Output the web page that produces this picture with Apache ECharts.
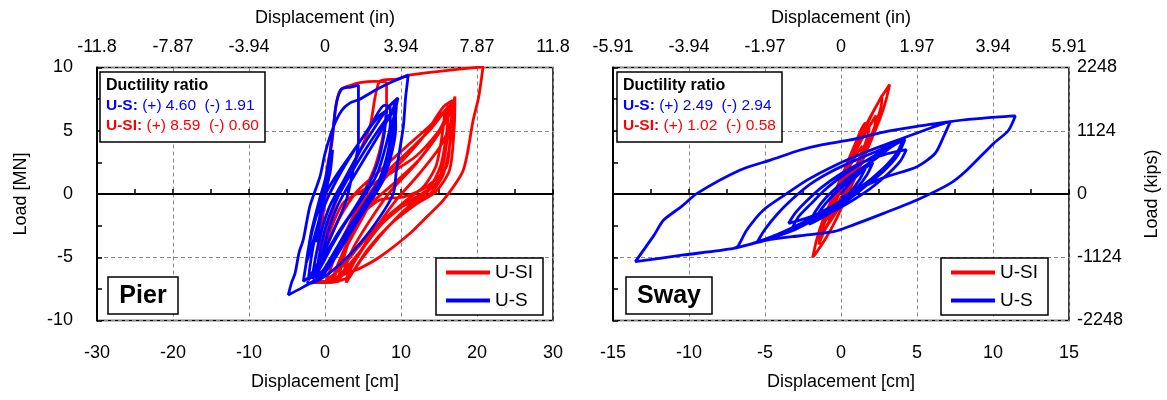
<!DOCTYPE html>
<html><head><meta charset="utf-8">
<script src="https://cdn.jsdelivr.net/npm/echarts@6/dist/echarts.min.js"></script>
<style>html,body{margin:0;padding:0;background:#fff}#c{width:1167px;height:400px}</style>
</head><body><div id="c"></div>
<script>
// ---------- data (cm, MN) ----------
const pierUSI = [
[0,0],[0.4,2.0],[0.8,4.0],[0.6,2.0],[0.1,0.0],[-0.4,-2.4],[-0.8,-4.5],[-0.5,-2.6],[0.0,0.0],
[0.4,2.5],[0.9,4.0],[1.4,6.8],[2.0,8.2],[3.4,8.6],[4.6,8.8],[6.6,8.9],[8.1,8.8],[8.1,6.8],[7.6,4.5],[6.6,2.2],[5.0,0.0],[3.2,-2.4],[1.6,-4.4],[0.2,-6.0],[-1.3,-6.9],
[-0.9,-5.6],[0.0,-3.4],[1.2,-1.0],[2.4,0.8],[4.2,2.9],[5.9,5.3],[7.2,8.9],[9.6,9.1],[11.0,9.4],[15.0,9.7],[20.8,10.06],
[20.2,7.6],[19.5,5.85],[18.2,1.9],[15.6,-0.47],[13.4,-1.8],[11.2,-3.1],[7.24,-4.96],[4.6,-5.87],[2.85,-6.27],[0.2,-6.9],[-1.3,-6.9],
[-0.8,-6.0],[0.2,-4.2],[1.8,-2.0],[4.2,0.2],[7.5,2.0],[10.8,3.8],[13.8,5.4],[15.8,6.6],[15.4,4.6],[14.6,2.2],[13.0,0.6],[10.5,-0.6],[7.0,-2.4],[4.4,-4.2],[2.0,-5.9],[0.2,-6.8],
[0.8,-5.8],[2.2,-3.6],[4.4,-1.2],[7.6,1.4],[11.0,3.4],[14.0,5.2],[16.3,7.0],[16.0,4.8],[15.2,2.2],[13.6,0.4],[11.0,-0.6],[7.6,-2.3],[4.8,-4.4],[2.6,-6.0],[1.0,-6.9],
[1.6,-6.0],[3.0,-4.0],[5.0,-1.8],[7.7,1.1],[10.3,2.7],[12.9,4.5],[15.6,6.9],[16.8,7.4],[16.5,5.0],[16.0,2.2],[13.4,0.58],[10.5,-0.2],[7.2,-0.47],[4.6,-1.8],[3.0,-4.0],[1.6,-7.0],
[2.4,-6.2],[3.6,-4.4],[5.8,-2.2],[8.6,0.2],[12.0,2.4],[15.0,4.8],[16.6,6.6],[17.1,7.7],[17.0,5.2],[16.4,1.9],[14.6,0.2],[12.0,-0.8],[8.6,-2.4],[5.6,-4.4],[3.2,-6.6],[2.8,-7.0],
[3.0,-6.4],[4.6,-4.6],[6.8,-2.6],[9.2,-0.6],[12.4,1.6],[15.2,3.8],[16.8,6.0],[17.0,7.2],[16.6,4.6],[15.6,1.6],[13.8,0.0],[11.0,-1.0],[8.0,-2.8],[5.0,-5.0],[3.0,-6.6],[0.4,-7.0],[-1.5,-7.0],
[-0.6,-5.0],[0.6,-3.0],[2.4,-0.7],[5.0,0.3],[8.5,1.6],[12.0,3.0],[15.0,5.0],[16.2,6.2],
[16.0,4.0],[15.0,1.2],[12.5,-0.3],[9.5,-1.2],[6.5,-3.0],[4.0,-5.2],[2.0,-6.6],[0.8,-7.0],[1.8,-5.4],[3.6,-3.0],[6.0,-0.8],[9.0,0.8],[12.5,2.8],[15.2,5.2],[16.6,7.2]
];
const pierUS = [
[0,0],[0.5,1.8],[1.0,3.5],[0.7,1.8],[0.0,0.0],[-0.6,-2.0],[-1.1,-3.8],[-0.8,-2.2],[-0.2,0.0],[0.4,2.0],[0.7,3.0],[0.3,1.0],[-0.6,-1.6],[-1.6,-3.8],[-2.5,-5.5],
[-1.8,-3.0],[-0.8,-0.6],[0.0,1.1],[0.66,3.2],[1.1,5.3],[1.5,7.2],[2.2,8.3],[3.4,8.45],[4.4,8.6],[4.4,6.5],[4.4,4.0],[3.7,1.9],[2.8,-0.5],[1.2,-2.8],[-0.5,-5.0],[-2.0,-6.5],[-2.85,-6.9],
[-2.4,-5.2],[-1.7,-3.0],[-0.6,-0.8],[1.2,1.2],[3.5,3.2],[5.6,5.0],[7.2,6.2],[8.1,6.6],[7.8,4.8],[7.0,2.6],[5.6,0.6],[3.8,-1.2],[1.8,-3.0],[0.0,-4.8],[-1.4,-6.2],[-2.2,-6.8],
[-1.8,-5.0],[-1.1,-2.8],[0.0,-0.8],[1.8,1.4],[4.0,3.6],[6.2,5.6],[7.8,7.0],[8.55,6.9],[8.6,5.6],[8.0,3.8],[6.8,1.5],[5.0,-0.3],[3.0,-2.0],[1.0,-4.0],[-0.6,-5.8],[-1.7,-6.7],
[-1.3,-5.2],[-0.5,-3.0],[0.6,-1.0],[2.4,1.0],[4.6,3.4],[6.8,5.5],[8.4,6.9],[9.6,7.6],[8.9,5.6],[8.3,3.4],[7.2,1.2],[5.4,-0.6],[3.4,-2.4],[1.4,-4.4],[-0.2,-6.0],[-1.2,-6.6],
[-0.8,-5.0],[0.0,-2.8],[1.2,-0.8],[3.0,1.2],[5.2,3.4],[7.4,5.4],[8.9,6.6],[9.2,7.2],[9.3,5.2],[8.6,2.8],[7.4,0.8],[5.6,-0.9],[3.6,-2.8],[1.6,-4.8],[0.0,-6.2],[-1.0,-6.7],
[-0.5,-5.2],[0.4,-3.0],[1.6,-1.0],[3.4,1.0],[5.4,3.0],[7.2,4.8],[8.6,6.2],[9.4,6.9],[9.0,4.8],[8.2,2.4],[6.8,0.4],[5.0,-1.3],[3.0,-3.2],[1.2,-5.0],[-0.2,-6.3],[-1.0,-6.7],
[-3.0,-7.4],[-4.83,-7.98],
[-4.4,-7.0],[-3.95,-6.3],[-3.4,-4.6],[-2.85,-3.6],[-2.0,-1.0],[-0.66,1.37],[0.0,3.2],[1.1,5.3],[2.2,6.6],[3.3,7.2],[4.6,7.5],[6.6,8.2],[8.55,8.8],[10.96,9.4],
[10.6,7.6],[10.3,5.3],[9.4,1.9],[9.0,0.05],[7.24,-1.8],[4.6,-3.9],[1.1,-6.0],[-1.97,-7.06],[-2.4,-6.9]
];
const swayUSI = [
[0,0],[0.25,1.0],[0.7,1.9],[0.55,1.0],[0.1,-0.1],[-0.25,-0.8],[-0.45,-1.2],[-0.35,-0.6],[-0.05,0.2],
[0.3,1.5],[0.85,2.8],[1.4,3.8],[1.25,2.6],[0.8,1.4],[0.2,0.0],[-0.4,-1.2],[-0.8,-2.2],[-0.7,-1.2],[-0.3,0.0],
[0.2,1.5],[0.8,3.0],[1.5,4.6],[2.3,6.2],[2.15,4.8],[1.65,3.4],[1.05,1.8],[0.35,0.0],[-0.4,-1.6],[-1.0,-2.7],[-1.3,-3.5],[-1.25,-2.6],[-0.95,-1.4],
[-0.45,0.0],[0.29,2.0],[1.06,4.0],[1.88,6.0],[2.58,7.5],[3.2,8.65],[2.98,7.5],[2.58,6.0],[1.9,4.0],[1.19,2.0],[0.45,0.0],[-0.32,-2.0],[-1.0,-3.5],[-1.55,-4.5],[-1.86,-5.0],
[-1.6,-3.6],[-1.2,-2.1],[-0.5,-0.1],[0.25,2.0],[0.95,4.0],[1.6,5.6],[1.85,5.2],[1.6,4.0],[1.0,2.2],[0.4,0.5],[-0.2,-1.0],[-0.7,-2.0],
[-1.15,-3.0],[-1.45,-4.0],[-1.3,-3.0],[-0.85,-1.6],[-0.2,0.3],[0.5,2.2],[1.3,4.4],[2.0,6.2],[2.7,7.8],[2.65,7.0],[2.3,5.6],[1.7,3.8],[1.0,1.8],[0.3,0.0],[-0.4,-1.4]
];
const swayUS = [
[0,0],[0.6,0.9],[1.2,1.6],[1.6,2.0],[1.2,1.1],[0.5,0.0],[-0.3,-0.9],[-1.1,-1.6],[-1.7,-2.0],[-1.3,-1.2],[-0.6,-0.2],[0.3,0.8],[1.2,1.7],[2.1,2.5],[1.7,1.5],[1.0,0.4],[0.0,-0.8],[-1.0,-1.7],[-2.1,-2.4],[-1.7,-1.4],[-1.0,-0.3],[0.0,0.8],[1.2,1.9],
[2.4,2.9],[3.3,3.7],[4.1,4.3],[3.7,3.3],[3.0,2.3],[2.0,1.2],[0.8,0.0],[-0.5,-0.9],[-1.8,-1.7],[-2.8,-2.1],[-3.45,-2.32],[-3.0,-1.5],[-2.3,-0.6],[-1.3,0.5],[0.0,1.6],[1.4,2.5],[2.8,3.1],[4.3,3.5],[3.9,2.6],[3.1,1.6],[1.9,0.4],[0.5,-0.7],[-0.9,-1.6],[-2.2,-2.3],[-3.2,-2.7],[-2.8,-1.8],[-2.0,-0.8],[-1.0,0.4],[0.3,1.6],[1.6,2.6],[2.9,3.5],[4.2,4.3],
[3.7,3.0],[2.8,1.8],[1.6,0.6],[0.2,-0.7],[-1.4,-1.8],[-3.0,-2.8],[-4.4,-3.4],[-5.5,-3.77],[-5.0,-2.8],[-4.2,-1.6],[-3.2,-0.4],[-2.0,0.8],[-0.6,1.8],[1.0,2.7],[2.6,3.5],[4.2,4.4],
[3.5,2.9],[2.4,1.6],[1.0,0.3],[-0.6,-1.0],[-2.4,-2.2],[-4.2,-3.2],[-5.8,-3.9],[-7.07,-4.3],
[-6.8,-4.16],[-6.2,-2.85],[-5.1,-1.26],[-3.55,0.05],[-2.24,1.1],[-0.5,2.2],[1.6,3.3],[3.6,4.2],[5.4,5.0],[7.2,5.72],[9.4,6.0],[11.47,6.17],
[11.0,5.0],[10.04,4.0],[8.29,1.9],[7.19,0.84],[5.0,-0.47],[2.8,-1.53],[0.9,-2.4],[-0.49,-2.98],[-2.7,-3.3],[-4.87,-3.64],[-7.07,-4.3],[-10.36,-4.82],[-13.53,-5.35],
[-12.3,-3.25],[-11.67,-2.06],[-10.5,-1.0],[-9.47,0.05],[-6.63,1.9],[-4.6,2.7],[-2.68,3.48],[-1.36,3.87],[0.6,4.27],[2.8,4.9],[5.0,5.35],[7.19,5.72],
[6.75,4.53],[6.2,3.22],[5.0,2.16],[3.0,1.37],[1.5,0.6],[0.0,-0.3]
];
// tick labels
const pierInTicks = ['-11.8','-7.87','-3.94','0','3.94','7.87','11.8'];
const swayInTicks = ['-5.91','-3.94','-1.97','0','1.97','3.94','5.91'];
const kipsTicks = ['-2248','-1124','0','1124','2248'];
const seriesNames = ['U-SI','U-S'];
const pierDuct = {us:'(+) 4.60  (-) 1.91', usi:'(+) 8.59  (-) 0.60'};
const swayDuct = {us:'(+) 2.49  (-) 2.94', usi:'(+) 1.02  (-) 0.58'};

// ---------- styles ----------
const FONT = "'Liberation Sans', Arial, sans-serif";
const RED = '#ff0000', BLUE = '#0000ff';
const gridLine = {show:true, lineStyle:{type:[4,3], color:'#8a8a8a', width:1}};

function cmAxis(gi,min,max,step){
  return {type:'value', gridIndex:gi, position:'bottom', min, max, interval:step,
    axisLine:{show:false, onZero:false}, axisTick:{show:false},
    axisLabel:{fontSize:18, color:'#000', margin:24, fontFamily:FONT, showMinLabel:true, showMaxLabel:true},
    splitLine:gridLine,
    name:'Displacement [cm]', nameLocation:'middle', nameGap:53,
    nameTextStyle:{fontSize:18, color:'#000', fontFamily:FONT}};
}
function inAxis(gi,min,max,step,labels){
  return {type:'value', gridIndex:gi, position:'top', min, max, interval:step,
    axisLine:{show:false, onZero:false}, axisTick:{show:false}, splitLine:{show:false},
    axisLabel:{fontSize:18, color:'#000', margin:11, fontFamily:FONT, showMinLabel:true, showMaxLabel:true,
      formatter:v=>labels[Math.round((v-min)/step)]},
    name:'Displacement (in)', nameLocation:'middle', nameGap:40,
    nameTextStyle:{fontSize:18, color:'#000', fontFamily:FONT}};
}
function zeroAxis(gi,min,max,step){
  return {type:'value', gridIndex:gi, position:'bottom', min, max, interval:step,
    axisLine:{show:true, onZero:true, lineStyle:{color:'#000', width:2}},
    axisTick:{show:true, inside:true, length:5, lineStyle:{color:'#000', width:1.5}},
    minorTick:{show:true, splitNumber:2, length:5, lineStyle:{color:'#000', width:1.5}},
    axisLabel:{show:false}, splitLine:{show:false}};
}
function loadAxis(gi, withLabels){
  return {type:'value', gridIndex:gi, position:'left', min:-10, max:10, interval:5,
    axisLine:{show:true, onZero:false, lineStyle:{color:'#000', width:2}},
    axisTick:{show:true, inside:true, length:5, lineStyle:{color:'#000', width:1.5}},
    minorTick:{show:true, splitNumber:2, length:5, lineStyle:{color:'#000', width:1.5}},
    axisLabel:{show:withLabels, fontSize:18, color:'#000', margin:24, fontFamily:FONT, showMinLabel:true, showMaxLabel:true},
    splitLine:gridLine,
    name: withLabels ? 'Load [MN]' : '', nameLocation:'middle', nameGap:67, nameRotate:90,
    nameTextStyle:{fontSize:18, color:'#000', fontFamily:FONT}};
}
function kipsAxis(gi){
  return {type:'value', gridIndex:gi, position:'right', min:-10, max:10, interval:5,
    axisLine:{show:false, onZero:false}, axisTick:{show:false}, splitLine:{show:false},
    axisLabel:{fontSize:18, color:'#000', margin:8, fontFamily:FONT, showMinLabel:true, showMaxLabel:true,
      formatter:v=>kipsTicks[Math.round((v+10)/5)]},
    name:'Load (kips)', nameLocation:'middle', nameGap:74, nameRotate:90,
    nameTextStyle:{fontSize:18, color:'#000', fontFamily:FONT}};
}
function lineSeries(name, data, xi, yi, color, z){
  return {type:'line', name, data, xAxisIndex:xi, yAxisIndex:yi, showSymbol:false, symbol:'none',
    smooth:0.25, lineStyle:{color, width:2.8}, itemStyle:{color}, z, animation:false};
}
function legendFor(left){
  return {left, top:258, orient:'vertical', data:seriesNames, selectedMode:false, icon:'rect',
    itemWidth:44, itemHeight:4, itemGap:9, padding:[5,10,5,10],
    borderColor:'#000', borderWidth:1.5, backgroundColor:'#fff', borderRadius:0,
    textStyle:{fontSize:19, color:'#000', fontFamily:FONT}};
}
function ductBox(x, d){
  return [
    {type:'rect', shape:{x, y:72, width:165, height:70}, style:{fill:'#fff', stroke:'#000', lineWidth:1.5}, z:100},
    {type:'text', x:x+6, y:76, z:101, style:{
      text:'{t|Ductility ratio}\n{bb|U-S: }{bn|'+d.us+'}\n{rb|U-SI: }{rn|'+d.usi+'}',
      rich:{
        t:{fontSize:16, fontWeight:'bold', fill:'#000', fontFamily:FONT, lineHeight:20},
        bb:{fontSize:15.5, fontWeight:'bold', fill:BLUE, fontFamily:FONT, lineHeight:20},
        bn:{fontSize:15.5, fill:BLUE, fontFamily:FONT, lineHeight:20},
        rb:{fontSize:15.5, fontWeight:'bold', fill:RED, fontFamily:FONT, lineHeight:20},
        rn:{fontSize:15.5, fill:RED, fontFamily:FONT, lineHeight:20}
      }}}
  ];
}
function nameBox(x, w, label){
  return [
    {type:'rect', shape:{x, y:277, width:w, height:37}, style:{fill:'#fff', stroke:'#000', lineWidth:1.5}, z:100},
    {type:'text', x:x+w/2, y:296, z:101, style:{text:label, fontSize:25, fontWeight:'bold', fill:'#000',
      fontFamily:FONT, align:'center', verticalAlign:'middle'}}
  ];
}

const chart = echarts.init(document.getElementById('c'));
chart.setOption({
  animation:false,
  backgroundColor:'#fff',
  grid:[
    {left:97, top:67.5, width:456, height:253, show:true, borderColor:'#000', borderWidth:1.5, backgroundColor:'transparent', outerBoundsMode:'none'},
    {left:613, top:67.5, width:456, height:253, show:true, borderColor:'#000', borderWidth:1.5, backgroundColor:'transparent', outerBoundsMode:'none'}
  ],
  xAxis:[cmAxis(0,-30,30,10), inAxis(0,-30,30,10,pierInTicks), zeroAxis(0,-30,30,10),
         cmAxis(1,-15,15,5), inAxis(1,-15,15,5,swayInTicks), zeroAxis(1,-15,15,5)],
  yAxis:[loadAxis(0,true), loadAxis(1,false), kipsAxis(1)],
  legend:[legendFor(436), legendFor(941)],
  series:[
    lineSeries('U-SI', pierUSI, 0, 0, RED, 3),
    lineSeries('U-S', pierUS, 0, 0, BLUE, 4),
    lineSeries('U-SI', swayUSI, 3, 1, RED, 3),
    lineSeries('U-S', swayUS, 3, 1, BLUE, 4)
  ],
  graphic:{elements:[...ductBox(100,pierDuct), ...ductBox(617,swayDuct), ...nameBox(108,70,'Pier'), ...nameBox(626,86,'Sway')]}
});
</script></body></html>
